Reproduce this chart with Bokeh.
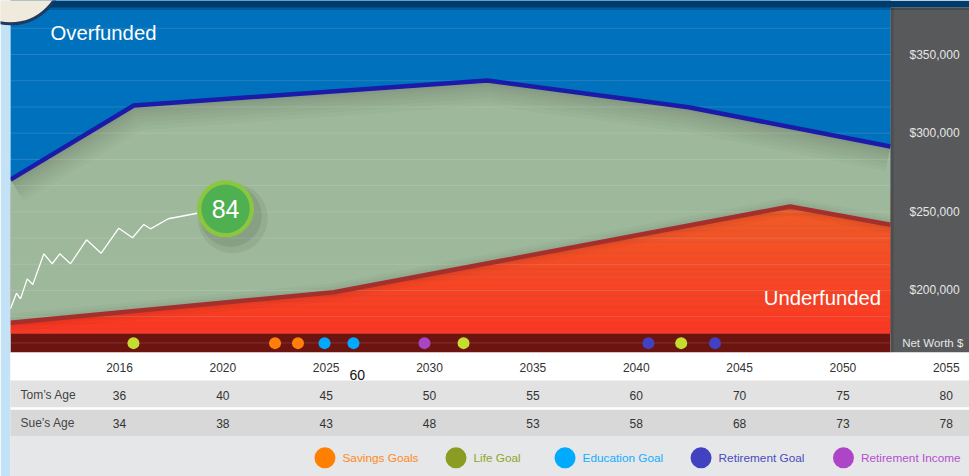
import numpy as np
from bokeh.plotting import figure
from bokeh.models import Range1d
from bokeh.core.properties import value
from bokeh.embed import file_html
from bokeh.resources import INLINE

FONT = "Liberation Sans"

# ---------------- data ----------------
# x positions are timeline columns: 0 = 2016 column, 1 = 2020 column, ... 8 = 2055 column
years = ["2016", "2020", "2025", "2030", "2035", "2040", "2045", "2050", "2055"]
toms_age = [36, 40, 45, 50, 55, 60, 70, 75, 80]
sues_age = [34, 38, 43, 48, 53, 58, 68, 73, 78]

# upper boundary (fully funded goal line)
goal_line_x = [-1.055, 0.138, 3.558, 5.506, 7.460]
goal_line_y = [270500, 317600, 333500, 316500, 291500]

# lower boundary (underfunded line)
under_line_x = [-1.055, 2.074, 6.488, 7.460]
under_line_y = [179500, 198900, 253400, 241800]

# history of the plan score (drawn in chart units)
score_x = [-1.055, -0.997, -0.958, -0.893, -0.839, -0.732, -0.651, -0.578, -0.474,
           -0.319, -0.177, -0.007, 0.126, 0.235, 0.300, 0.472, 0.752]
score_y = [188400, 198300, 194700, 207400, 203800, 223300, 217000, 223300, 217000,
           232200, 223700, 239600, 233500, 242000, 239200, 245600, 249100]
score_now = "84"
score_now_x = 1.026
score_now_y = 251900

# goal events on the timeline
event_x = [0.135, 1.505, 1.727, 1.984, 2.264, 2.951, 3.329, 5.118, 5.435, 5.762]
event_type = ["Life Goal", "Savings Goals", "Savings Goals", "Education Goal", "Education Goal",
              "Retirement Income", "Life Goal", "Retirement Goal", "Life Goal", "Retirement Goal"]

legend_names = ["Savings Goals", "Life Goal", "Education Goal", "Retirement Goal", "Retirement Income"]

axis_ticks = [200000, 250000, 300000, 350000]
axis_labels = ["$200,000", "$250,000", "$300,000", "$350,000"]
grid_ticks = [166667, 183333, 200000, 216667, 233333, 250000, 266667, 283333,
              300000, 316667, 333333, 350000, 366667]

# ---------------- styles / layout ----------------
event_colors = {"Savings Goals": "#ff7f0a", "Life Goal": "#c4de30", "Education Goal": "#00a9ff",
                "Retirement Goal": "#4141c2", "Retirement Income": "#a845c6"}
legend_dot_colors = ["#ff8000", "#8a9d22", "#00aaff", "#4242c0", "#ae45c8"]
legend_txt_colors = ["#ff8a1c", "#8ea62a", "#14adff", "#4b4bbd", "#b650d0"]
legend_x = [1.988, 3.256, 4.311, 5.627, 7.005]

BLUE = "#0071bc"
GREEN = "#9db89a"
BAND = "#6c1510"
PANEL = "#58595b"

chart_left, chart_right = -1.0547, 7.4601
band_top, band_bottom = 172500, 160600

# x: timeline columns; y: dollars for the chart, "rows" (pixel rows from top) for the frame pieces
xr = Range1d(-1.1514, 8.2245)
yr = Range1d(81778, 384324)

p = figure(width=969, height=476, x_range=xr, y_range=yr,
           output_backend="svg", toolbar_location=None,
           x_axis_location=None, y_axis_location=None,
           min_border=0, outline_line_color=None,
           background_fill_color="white", border_fill_color="white")
p.extra_y_ranges = {"rows": Range1d(476, 0)}
p.grid.visible = False

# chart background (blue)
p.quad(left=chart_left, right=chart_right, bottom=band_top, top=yr.end,
       fill_color=BLUE, line_color=None)

# red gradient (visible below the underfunded line)
n = 26
edges = np.linspace(band_top, 262000, n + 1)
c0 = np.array([250, 56, 35])
c1 = np.array([240, 96, 40])
cols = []
for i in range(n):
    t = i / (n - 1)
    c = (c0 * (1 - t) + c1 * t).astype(int)
    cols.append("#%02x%02x%02x" % tuple(c))
p.quad(left=chart_left, right=chart_right, bottom=edges[:-1], top=edges[1:],
       fill_color=cols, line_color=cols, line_width=0.5)

# green funded zone
p.patch(x=goal_line_x + under_line_x[::-1], y=goal_line_y + under_line_y[::-1],
        fill_color=GREEN, line_color=None)

# soft shadows inside the green zone
for w in [50, 42, 35, 28, 22, 16, 11, 7]:
    p.line(goal_line_x, goal_line_y, line_width=w, line_color="black", line_alpha=0.02,
           line_join="round")
for w in [18, 12, 8]:
    p.line(under_line_x, under_line_y, line_width=w, line_color="black", line_alpha=0.025,
           line_join="round")

# blue overfunded zone
p.patch(x=goal_line_x + [chart_right, chart_left], y=goal_line_y + [yr.end, yr.end],
        fill_color=BLUE, line_color=None)

# timeline band
p.quad(left=chart_left, right=chart_right, bottom=band_bottom, top=band_top,
       fill_color=BAND, line_color=None)

# horizontal grid lines
p.segment(x0=chart_left, x1=chart_right, y0=grid_ticks, y1=grid_ticks,
          line_color="white", line_alpha=0.13, line_width=1)

# boundary lines
p.line(goal_line_x, goal_line_y, line_width=4.5, line_color="#1c1aa8")
p.line(under_line_x, under_line_y, line_width=4.5, line_color="#a3302c")

# score history and current score
p.line(score_x, score_y, line_width=1.3, line_color="white")
p.scatter([score_now_x + 0.07], [score_now_y - 6000], size=70, fill_color="black",
          fill_alpha=0.06, line_color=None)
p.scatter([score_now_x + 0.05], [score_now_y - 4500], size=62, fill_color="black",
          fill_alpha=0.08, line_color=None)
p.scatter([score_now_x], [score_now_y], size=57, fill_color="#8cc540", line_color=None)
p.scatter([score_now_x], [score_now_y], size=48.5, fill_color="#4fb052", line_color=None)
p.text(x=[score_now_x], y=[score_now_y], text=[score_now], text_align="center",
       text_baseline="middle", text_color="white", text_font=value(FONT),
       text_font_size="25px")

# goal events on the band
band_mid = (band_bottom + band_top) / 2
p.scatter(x=event_x, y=band_mid, size=12, fill_color=[event_colors[t] for t in event_type],
          line_color=None)

# ---------------- frame pieces (rows units) ----------------
R = dict(y_range_name="rows")
# zone labels
p.text(x=[-0.668], y=[32], text=["Overfunded"], text_color="white",
       text_font=value(FONT), text_font_size="20.3px", text_baseline="middle", **R)
p.text(x=[6.234], y=[297], text=["Underfunded"], text_color="white",
       text_font=value(FONT), text_font_size="20.3px", text_baseline="middle", **R)

# left strip
p.quad(left=xr.start, right=chart_left, bottom=476, top=0, fill_color="#c4e2f5",
       line_color=None, **R)
# right value panel
p.quad(left=chart_right, right=xr.end, bottom=352, top=7, fill_color=PANEL,
       line_color=None, **R)
p.quad(left=chart_right, right=chart_right + 0.03, bottom=352, top=7, fill_color="black",
       fill_alpha=0.12, line_color=None, **R)
# top bar
p.quad(left=chart_left, right=xr.end, bottom=7, top=0, fill_color="#003b6d",
       line_color=None, **R)
p.quad(left=chart_left, right=xr.end, bottom=9.5, top=7, fill_color="black",
       fill_alpha=0.18, line_color=None, **R)

# value axis labels
p.text(x=7.644, y=axis_ticks, text=axis_labels, text_align="left", text_baseline="middle",
       text_color="#e6e6e6", text_font=value(FONT), text_font_size="12px")
p.text(x=[7.573], y=[342], text=["Net Worth $"], text_align="left", text_baseline="middle",
       text_color="#e6e6e6", text_font=value(FONT), text_font_size="11.5px", **R)

# table rows
p.quad(left=chart_left, right=xr.end, bottom=[380, 406.7, 436, 476], top=[352, 380, 409.3, 436],
       fill_color=["white", "#e2e2e2", "#d8d8d8", "#e6e7e9"], line_color=None, **R)

txt = dict(text_font=value(FONT), text_font_size="12px", text_color="#333333",
           text_baseline="middle", y_range_name="rows")
xi = list(range(len(years)))
p.text(x=xi, y=366.7, text=years, text_align="center", **txt)
p.text(x=xi, y=394.7, text=[str(v) for v in toms_age], text_align="center", **txt)
p.text(x=xi, y=422.7, text=[str(v) for v in sues_age], text_align="center", **txt)
p.text(x=-0.958, y=[394.7, 422.7], text=["Tom\u2019s Age", "Sue\u2019s Age"], text_align="left",
       text_font=value(FONT), text_font_size="12px", text_color="#444444",
       text_baseline="middle", **R)
p.text(x=[2.30], y=[374.3], text=["60"], text_align="center", text_baseline="middle",
       text_font=value(FONT), text_font_size="14px", text_color="#111111", **R)

# legend
p.scatter(x=legend_x, y=457.3, size=21, fill_color=legend_dot_colors, line_color=None, **R)
p.text(x=legend_x, y=457.3, x_offset=17.5, text=legend_names, text_color=legend_txt_colors,
       text_align="left", text_baseline="middle", text_font=value(FONT),
       text_font_size="11.8px", **R)

# avatar edge at top-left
p.scatter([chart_left], [-28.7], size=104, fill_color="#efeadb",
          line_color="#1d3a63", line_width=3, **R)

open("out.html", "w").write(file_html(p, INLINE))
